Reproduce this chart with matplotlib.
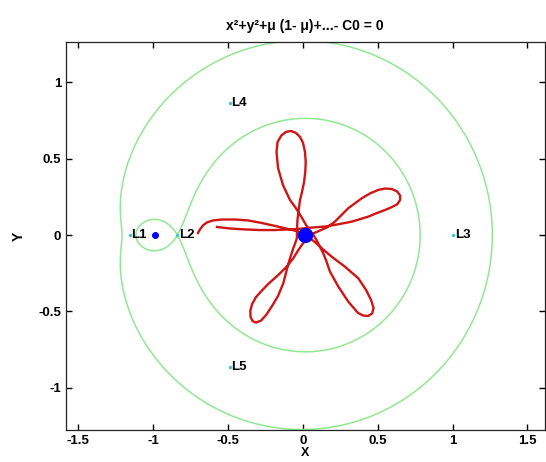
import numpy as np
import matplotlib
matplotlib.use("Agg")
import matplotlib.pyplot as plt

plt.rcParams['font.family'] = ['Liberation Sans', 'DejaVu Sans']
plt.rcParams['font.weight'] = 'bold'

# ---- data ----
mu = 0.01215          # mass ratio
C0 = 3.2003           # Jacobi constant of the drawn zero-velocity curve
earth = (0.012, 0.0)
moon = (-0.988, 0.0)

lag_names = ['L1', 'L2', 'L3', 'L4', 'L5']
lag_x = [-1.156, -0.837, 1.005, -0.488, -0.488]
lag_y = [0.0, 0.0, 0.0, 0.866, -0.866]

orbit_x = [-0.699, -0.686, -0.666, -0.639, -0.599, -0.539, -0.452, -0.365, -0.272, -0.185,
           -0.098, -0.031, 0.009, 0.049, 0.089, 0.129, 0.194, 0.282, 0.371, 0.423,
           0.456, 0.473, 0.463, 0.436, 0.403, 0.369, 0.304, 0.238, 0.182, 0.159,
           0.136, 0.115, 0.092, 0.071, 0.045, 0.022, -0.001, -0.025, -0.051, -0.085,
           -0.132, -0.165, -0.175, -0.168, -0.142, -0.111, -0.078, -0.045, -0.018, 0.002,
           0.015, 0.020, 0.017, 0.009, -0.005, -0.018, -0.028, -0.035, -0.038, -0.039,
           -0.051, -0.063, -0.085, -0.107, -0.130, -0.165, -0.205, -0.245, -0.278, -0.312,
           -0.335, -0.348, -0.350, -0.338, -0.312, -0.272, -0.230, -0.163, -0.107, -0.063,
           -0.029, -0.001, 0.029, 0.069, 0.115, 0.162, 0.216, 0.304, 0.394, 0.449,
           0.505, 0.549, 0.594, 0.630, 0.650, 0.650, 0.630, 0.589, 0.549, 0.489,
           0.438, 0.327, 0.216, 0.149, 0.082, 0.015, -0.031, -0.098, -0.185, -0.285,
           -0.385, -0.485, -0.572]
orbit_y = [0.014, 0.037, 0.063, 0.083, 0.096, 0.102, 0.102, 0.096, 0.079, 0.060,
           0.040, 0.024, 0.004, -0.021, -0.052, -0.088, -0.142, -0.207, -0.283, -0.360,
           -0.425, -0.478, -0.514, -0.530, -0.527, -0.510, -0.436, -0.338, -0.240, -0.174,
           -0.117, -0.078, -0.032, 0.001, 0.033, 0.066, 0.106, 0.145, 0.184, 0.230,
           0.328, 0.440, 0.545, 0.610, 0.653, 0.676, 0.682, 0.669, 0.643, 0.604,
           0.545, 0.479, 0.413, 0.348, 0.282, 0.230, 0.158, 0.099, 0.040, -0.021,
           -0.055, -0.086, -0.152, -0.229, -0.316, -0.399, -0.465, -0.524, -0.560, -0.573,
           -0.563, -0.537, -0.497, -0.452, -0.406, -0.363, -0.320, -0.261, -0.207, -0.152,
           -0.098, -0.058, -0.022, 0.010, 0.030, 0.050, 0.089, 0.176, 0.241, 0.273,
           0.296, 0.305, 0.302, 0.286, 0.260, 0.230, 0.201, 0.181, 0.164, 0.142,
           0.121, 0.088, 0.067, 0.056, 0.051, 0.045, 0.040, 0.037, 0.033, 0.033,
           0.037, 0.043, 0.053]

xticks = [-1.5, -1, -0.5, 0, 0.5, 1, 1.5]
xticklabels = ['-1.5', '-1', '-0.5', '0', '0.5', '1', '1.5']
yticks = [-1, -0.5, 0, 0.5, 1]
yticklabels = ['-1', '-0.5', '0', '0.5', '1']

title = 'x\u00b2+y\u00b2+\u03bc (1- \u03bc)+...- C0 = 0'

# ---- figure ----
fig = plt.figure(figsize=(5.46, 4.62), dpi=100)
ax = fig.add_axes([0.1209, 0.0682, 0.8764, 0.8403])
xlim = (-1.580, 1.614)
ylim = (-1.280, 1.263)

gx = np.linspace(xlim[0], xlim[1], 900)
gy = np.linspace(ylim[0], ylim[1], 900)
X, Y = np.meshgrid(gx, gy)
r1 = np.sqrt((X - earth[0])**2 + Y**2) + 1e-9
r2 = np.sqrt((X - moon[0])**2 + Y**2) + 1e-9
F = X**2 + Y**2 + mu * (1 - mu) + 2 * (1 - mu) / r1 + 2 * mu / r2 - C0
ax.contour(X, Y, F, levels=[0], colors=['#92e892'], linewidths=1.1)

ax.plot(orbit_x, orbit_y, color='#d01515', lw=1.7, solid_joinstyle='round', zorder=3)
ax.plot([earth[0]], [earth[1]], 'o', color='#0000ff', ms=10, zorder=4)
ax.plot([moon[0]], [moon[1]], 'o', color='#0000ff', ms=4, zorder=4)
ax.plot(lag_x, lag_y, 'o', color='#40c8c8', ms=2.5, zorder=4, mec='none')
for n, lx, ly in zip(lag_names, lag_x, lag_y):
    ax.text(lx + 0.01, ly, n, fontsize=9.5, fontweight='bold', ha='left', va='center', zorder=5)

ax.set_xlim(xlim)
ax.set_ylim(ylim)
ax.set_xticks(xticks)
ax.set_xticklabels(xticklabels)
ax.set_yticks(yticks)
ax.set_yticklabels(yticklabels)
ax.tick_params(direction='in', top=True, right=True, length=4, width=1, labelsize=9.5, pad=3.5)
for lab in ax.get_xticklabels() + ax.get_yticklabels():
    lab.set_fontweight('bold')
for s in ax.spines.values():
    s.set_linewidth(0.9)
    s.set_color('#222222')
ax.set_xlabel('X', fontsize=9, fontweight='bold', labelpad=0)
ax.set_ylabel('Y', fontsize=10, fontweight='bold', labelpad=9)
ax.set_title(title, fontsize=10, fontweight='bold', pad=9)

fig.savefig('out.png', dpi=100)
